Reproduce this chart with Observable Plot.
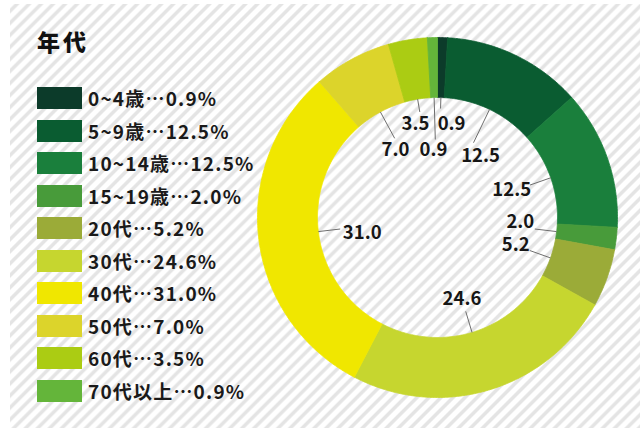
<!DOCTYPE html>
<html lang="ja">
<head>
<meta charset="utf-8">
<script src="https://cdn.jsdelivr.net/npm/d3@7"></script>
<script src="https://cdn.jsdelivr.net/npm/@observablehq/plot@0.6"></script>
<style>
  html, body { margin: 0; padding: 0; }
  body { width: 640px; height: 428px; overflow: hidden; position: relative; background: #fff; }
  #bg { position: absolute; left: 10px; top: 4px; right: 0; bottom: 0;
        background: repeating-linear-gradient(135deg, #ffffff 0px, #ffffff 2.5px, #e4e4e4 4px, #e4e4e4 6px, #ffffff 7.5px, #ffffff 8.5px); }
  #chart { position: absolute; left: 0; top: 0; }
  #title { position: absolute; left: 37px; top: 30px; font-family: "Noto Sans CJK JP"; font-weight: 900;
           font-size: 23px; letter-spacing: 3px; color: #111; line-height: 1; }
  #legend { position: absolute; left: 37px; top: 87px; }
  #legend > div { margin: 0 !important; font-family: "Noto Sans CJK JP" !important; font-size: 19px !important;
                  font-weight: 700 !important; color: #1a1a1a !important; }
  #legend [class$="-swatch"] { padding-bottom: 10.5px !important; margin: 0 !important; height: 22px; display: flex; align-items: center; }
  #legend [class$="-swatch"] svg { margin-right: 6px !important; }
  #legend [class$="-swatch-label"] { letter-spacing: 1.2px; overflow: visible !important; line-height: 22px; }
</style>
</head>
<body>
<div id="bg"></div>
<div id="chart"></div>
<div id="title">年代</div>
<div id="legend"></div>
<script>
// ---- data ----
const categories = ["0~4歳", "5~9歳", "10~14歳", "15~19歳", "20代", "30代", "40代", "50代", "60代", "70代以上"];
const shares = [0.9, 12.5, 12.5, 2.0, 5.2, 24.6, 31.0, 7.0, 3.5, 0.9];
const sliceLabels = ["0.9", "12.5", "12.5", "2.0", "5.2", "24.6", "31.0", "7.0", "3.5", "0.9"];
const colors = ["#0c3b2a", "#0a5c31", "#1a7f3c", "#489b3a", "#9bab38", "#c6d62f", "#f0e700", "#dcd42b", "#abcc13", "#64b53a"];
const titleText = "年代";

// ---- layout (not data) ----
const CX = 437, CY = 217, R_OUT = 180, R_IN = 120;
const labelLayout = {
  0: {leader: 109, r: 94, ang: 8.6},
  1: {leader: 83, r: 74.6, ang: 35.2},
  2: {r: 79, ang: 70},
  3: {r: 83, ang: 93.5},
  4: {r: 83},
  5: {r: 85},
  6: {r: 77, ang: 258},
  7: {leader: 90, r: 79, ang: 327.9},
  8: {leader: 107, r: 95.6, ang: 346.7},
  9: {leader: 78, r: 68, ang: 356.6}
};

document.getElementById("title").textContent = titleText;

const total = d3.sum(shares);
let acc = 0;
const slices = shares.map((v, i) => {
  const a0 = acc / total * 2 * Math.PI; acc += v;
  const a1 = acc / total * 2 * Math.PI;
  return {key: categories[i], i, a0, a1, mid: (a0 + a1) / 2};
});

const ringPts = slices.flatMap(s => {
  const n = Math.max(2, Math.ceil((s.a1 - s.a0) / (Math.PI / 360)));
  const angs = d3.range(n + 1).map(k => s.a0 + (s.a1 - s.a0) * k / n);
  const pts = [];
  angs.forEach(a => pts.push({key: s.key, x: R_OUT * Math.sin(a), y: R_OUT * Math.cos(a)}));
  angs.slice().reverse().forEach(a => pts.push({key: s.key, x: R_IN * Math.sin(a), y: R_IN * Math.cos(a)}));
  pts.push({...pts[0]});
  return pts;
});

const labels = slices.map(s => {
  const L = labelLayout[s.i] || {};
  const lr = L.leader ?? 98, tr = L.r ?? 80;
  const ta = L.ang != null ? L.ang * Math.PI / 180 : s.mid;
  return {
    x1: R_IN * Math.sin(s.mid), y1: R_IN * Math.cos(s.mid),
    x2: lr * Math.sin(s.mid), y2: lr * Math.cos(s.mid),
    tx: tr * Math.sin(ta), ty: tr * Math.cos(ta),
    text: sliceLabels[s.i]
  };
});

const chart = Plot.plot({
  width: 640, height: 428, margin: 0,
  style: {background: "transparent", overflow: "visible"},
  x: {domain: [-R_OUT, R_OUT], range: [CX - R_OUT, CX + R_OUT], axis: null},
  y: {domain: [-R_OUT, R_OUT], range: [CY + R_OUT, CY - R_OUT], axis: null},
  color: {type: "ordinal", domain: categories, range: colors},
  marks: [
    Plot.line(ringPts, {x: "x", y: "y", z: "key", fill: "key", stroke: "key", strokeWidth: 0.8, curve: "linear"}),
    Plot.link(labels, {x1: "x1", y1: "y1", x2: "x2", y2: "y2", stroke: "#6e6e6e", strokeWidth: 1}),
    Plot.text(labels, {x: "tx", y: "ty", text: "text", fontSize: 18.5, fontWeight: "bold",
                       fontFamily: "Noto Sans CJK JP", fill: "#161616"})
  ]
});
document.getElementById("chart").append(chart);

const shareOf = new Map(categories.map((c, i) => [c, shares[i]]));
const legend = chart.legend("color", {
  columns: 1, swatchWidth: 45, swatchHeight: 22,
  tickFormat: d => `${d}…${shareOf.get(d).toFixed(1)}%`
});
document.getElementById("legend").append(legend);
</script>
</body>
</html>
